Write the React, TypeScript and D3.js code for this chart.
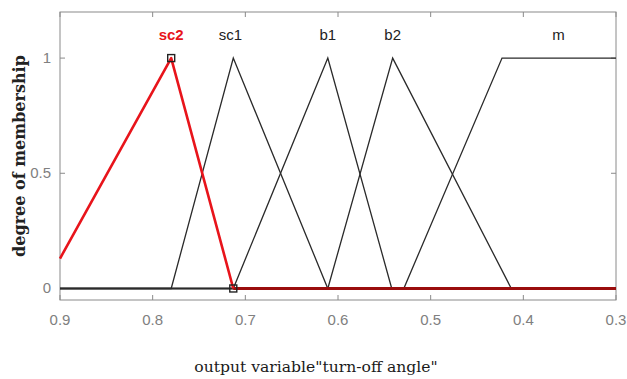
import React from "react";
import * as d3 from "d3";

// Output variable "turn-off angle": membership functions (vertex lists, x in output units)
const mfNames = ["sc2", "sc1", "b1", "b2", "m"];
const sc2Pts: [number, number][] = [[0.9, 0.13], [0.78, 1], [0.713, 0], [0.3, 0]];
const sc1Pts: [number, number][] = [[0.9, 0], [0.78, 0], [0.713, 1], [0.611, 0], [0.3, 0]];
const b1Pts: [number, number][] = [[0.9, 0], [0.713, 0], [0.611, 1], [0.542, 0], [0.3, 0]];
const b2Pts: [number, number][] = [[0.9, 0], [0.611, 0], [0.541, 1], [0.413, 0], [0.3, 0]];
const mPts: [number, number][] = [[0.9, 0], [0.529, 0], [0.423, 1], [0.3, 1]];
const labelX = [0.78, 0.716, 0.611, 0.541, 0.362];
const xTicks = [0.9, 0.8, 0.7, 0.6, 0.5, 0.4, 0.3];
const yTicks = [0, 0.5, 1];
const highlightMarkers: [number, number][] = [[0.78, 1], [0.713, 0]];

const W = 627;
const H = 379;
const M = { left: 60, right: 11, top: 12, bottom: 79 };

export default function App() {
  const x = d3.scaleLinear().domain([0.9, 0.3]).range([M.left, W - M.right]);
  const y = d3.scaleLinear().domain([-0.05, 1.2]).range([H - M.bottom, M.top]);
  const line = d3
    .line<[number, number]>()
    .x((d) => x(d[0]))
    .y((d) => y(d[1]));

  const blackMfs = [sc1Pts, b1Pts, b2Pts, mPts];
  const x0 = M.left;
  const x1 = W - M.right;
  const y0 = M.top;
  const y1 = H - M.bottom;
  const tickLen = 5;
  const axisColor = "#8a8a8a";
  const tickFont = "'Liberation Sans', Arial, sans-serif";
  const titleFont = "'DejaVu Serif', serif";

  // split the highlighted MF into its sloped part and its zero tail
  const sc2Slope = sc2Pts.slice(0, 3);
  const sc2Tail = sc2Pts.slice(2);

  return (
    <svg
      width={W}
      height={H}
      style={{ position: "absolute", left: 0, top: 0, background: "#fff" }}
    >
      <rect x={0} y={0} width={W} height={H} fill="#fff" />
      {/* frame */}
      <rect x={x0} y={y0} width={x1 - x0} height={y1 - y0} fill="none" stroke={axisColor} strokeWidth={1} />
      {/* x ticks (top and bottom, inward) */}
      {xTicks.map((t) => (
        <g key={"xt" + t}>
          <line x1={x(t)} x2={x(t)} y1={y1} y2={y1 - tickLen} stroke={axisColor} />
          <line x1={x(t)} x2={x(t)} y1={y0} y2={y0 + tickLen} stroke={axisColor} />
          <text
            x={x(t)}
            y={y1 + 25}
            textAnchor="middle"
            fontFamily={tickFont}
            fontSize={15}
            fill="#808080"
          >
            {d3.format(".1f")(t)}
          </text>
        </g>
      ))}
      {/* y ticks (left and right, inward) */}
      {yTicks.map((t) => (
        <g key={"yt" + t}>
          <line x1={x0} x2={x0 + tickLen} y1={y(t)} y2={y(t)} stroke={axisColor} />
          <line x1={x1} x2={x1 - tickLen} y1={y(t)} y2={y(t)} stroke={axisColor} />
          <text
            x={x0 - 9}
            y={y(t) + 5}
            textAnchor="end"
            fontFamily={tickFont}
            fontSize={15}
            fill="#808080"
          >
            {String(t)}
          </text>
        </g>
      ))}
      {/* black membership functions */}
      {blackMfs.map((pts, i) => (
        <path key={"mf" + i} d={line(pts) || ""} fill="none" stroke="#2a2a2a" strokeWidth={1.3} />
      ))}
      {/* highlighted MF */}
      <path d={line(sc2Tail) || ""} fill="none" stroke="#9a0d0d" strokeWidth={3} />
      <path d={line(sc2Slope) || ""} fill="none" stroke="#e8141b" strokeWidth={2.6} strokeLinejoin="round" />
      {highlightMarkers.map((p, i) => (
        <rect
          key={"mk" + i}
          x={x(p[0]) - 3.5}
          y={y(p[1]) - 3.5}
          width={7}
          height={7}
          fill="none"
          stroke="#222"
          strokeWidth={1.4}
        />
      ))}
      {/* MF names */}
      {mfNames.map((n, i) => (
        <text
          key={"lbl" + n}
          x={x(labelX[i])}
          y={y(1) - 18}
          textAnchor="middle"
          fontFamily={tickFont}
          fontSize={15}
          fontWeight={i === 0 ? "bold" : "normal"}
          fill={i === 0 ? "#e8141b" : "#222"}
        >
          {n}
        </text>
      ))}
      {/* axis titles */}
      <text
        x={316}
        y={372}
        textAnchor="middle"
        fontFamily={titleFont}
        fontSize={15.6}
        fill="#1a1a1a"
      >
        output variable"turn-off angle"
      </text>
      <text
        transform={`translate(25, 156) rotate(-90)`}
        textAnchor="middle"
        fontFamily={titleFont}
        fontSize={16}
        fontWeight="bold"
        fill="#222"
      >
        degree of membership
      </text>
    </svg>
  );
}
